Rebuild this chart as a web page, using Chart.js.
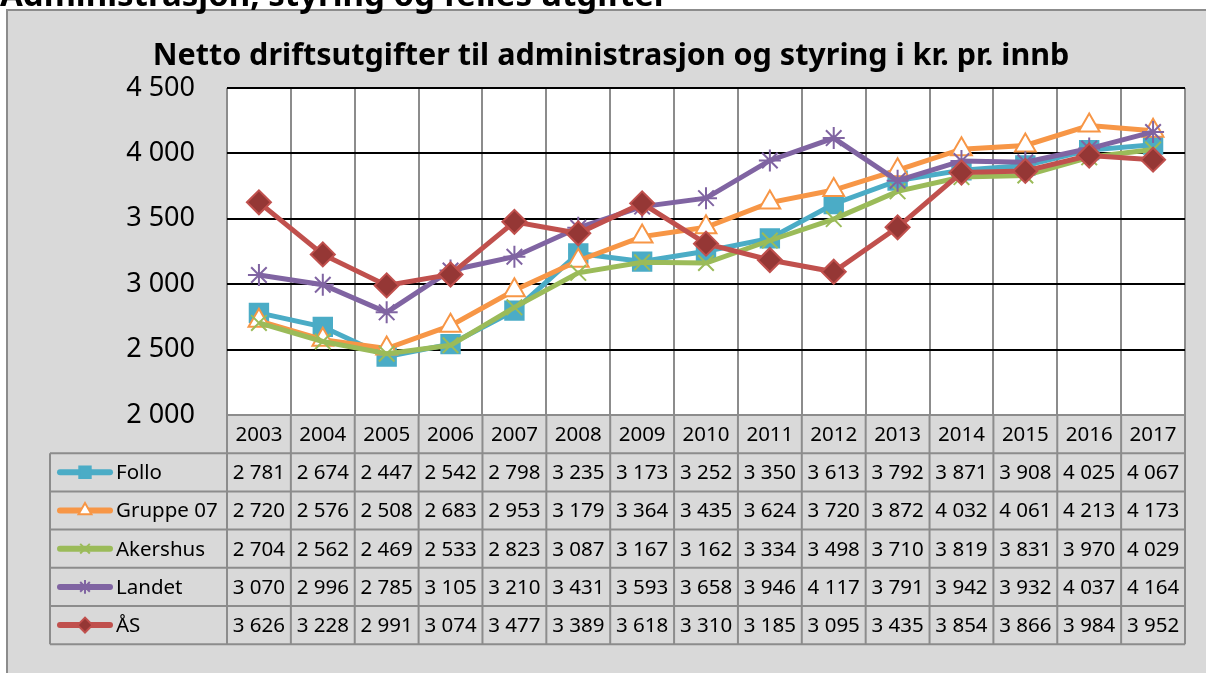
<!DOCTYPE html>
<html>
<head>
<meta charset="utf-8">
<script src="https://cdn.jsdelivr.net/npm/chart.js@4"></script>
<style>
  html, body { margin: 0; padding: 0; background: #fff; }
  #box {
    position: absolute; left: 6px; top: 9px; width: 1210px; height: 670px;
    background: #d9d9d9; border-left: 2px solid #8c8c8c; border-top: 2px solid #8c8c8c;
  }
  #c { position: absolute; left: 0; top: 0; }
</style>
</head>
<body>
<div id="box"></div>
<canvas id="c" width="1206" height="673"></canvas>
<script>
// ─── 데이터 ─────────────────────────────
const years = ['2003', '2004', '2005', '2006', '2007', '2008', '2009', '2010',
               '2011', '2012', '2013', '2014', '2015', '2016', '2017'];
const follo    = [2781, 2674, 2447, 2542, 2798, 3235, 3173, 3252, 3350, 3613, 3792, 3871, 3908, 4025, 4067];
const gruppe07 = [2720, 2576, 2508, 2683, 2953, 3179, 3364, 3435, 3624, 3720, 3872, 4032, 4061, 4213, 4173];
const akershus = [2704, 2562, 2469, 2533, 2823, 3087, 3167, 3162, 3334, 3498, 3710, 3819, 3831, 3970, 4029];
const landet   = [3070, 2996, 2785, 3105, 3210, 3431, 3593, 3658, 3946, 4117, 3791, 3942, 3932, 4037, 4164];
const aas      = [3626, 3228, 2991, 3074, 3477, 3389, 3618, 3310, 3185, 3095, 3435, 3854, 3866, 3984, 3952];
const yTicks = [2000, 2500, 3000, 3500, 4000, 4500];

const heading = 'Administrasjon, styring og felles utgifter';
const title = 'Netto driftsutgifter til administrasjon og styring i kr. pr. innb';

const FONT = '"Noto Sans", "Open Sans", sans-serif';
const GRAY = '#8c8c8c';

// 천 단위 공백
const fmt = (v) => String(v).replace(/\B(?=(\d{3})+(?!\d))/g, ' ');

function series(label, data, color, style, extra) {
  return Object.assign({
    label, data,
    borderColor: color,
    backgroundColor: color,
    borderWidth: 5,
    tension: 0,
    pointStyle: style,
    pointRadius: 10,
    pointBorderWidth: 2,
    pointBorderColor: color,
    pointBackgroundColor: color
  }, extra || {});
}

const datasets = [
  series('Follo', follo, '#4bacc6', 'rect', { pointRadius: 13, order: 4 }),
  series('Gruppe 07', gruppe07, '#f79646', 'triangle', { pointRadius: 12, pointBackgroundColor: '#ffffff', order: 3 }),
  series('Akershus', akershus, '#9bbb59', 'crossRot', { pointRadius: 11, order: 2 }),
  series('Landet', landet, '#8064a2', 'star', { pointRadius: 11, order: 1 }),
  series('ÅS', aas, '#c0504d', 'rectRot', { pointRadius: 12, pointBackgroundColor: '#953735', order: 0 })
];

// ─── 플러그인: 흰 배경, 제목, 데이터 테이블 ──────────────
const decor = {
  id: 'decor',
  beforeDraw(chart) {
    const { ctx, chartArea: a } = chart;
    ctx.save();
    ctx.fillStyle = '#ffffff';
    ctx.fillRect(a.left, a.top, a.right - a.left, a.bottom - a.top);
    ctx.fillStyle = '#000';
    ctx.textAlign = 'left';
    ctx.textBaseline = 'alphabetic';
    ctx.font = 'bold 33px ' + FONT;
    ctx.fillText(heading, 0, 6);
    ctx.textAlign = 'center';
    ctx.textBaseline = 'middle';
    ctx.font = 'bold 30.5px ' + FONT;
    ctx.fillText(title, 611, 56);
    ctx.restore();
  },
  afterDraw(chart) {
    const { ctx, chartArea: a } = chart;
    const x = chart.scales.x;
    const step = x.getPixelForValue(1) - x.getPixelForValue(0);
    const edges = years.map((_, i) => x.getPixelForValue(i) - step / 2);
    edges.push(a.right);
    const top = a.bottom, rowH = 38.2, legLeft = 50;
    const rows = datasets.length;
    const bottom = top + rowH * (rows + 1);

    ctx.save();
    ctx.strokeStyle = GRAY;
    ctx.lineWidth = 2;
    ctx.beginPath();
    edges.forEach(e => { ctx.moveTo(e, top); ctx.lineTo(e, bottom); });
    ctx.moveTo(legLeft, top + rowH); ctx.lineTo(legLeft, bottom);
    for (let r = 0; r <= rows + 1; r++) {
      const y = top + r * rowH;
      ctx.moveTo(r === 0 ? a.left : legLeft, y);
      ctx.lineTo(a.right, y);
    }
    ctx.stroke();

    ctx.fillStyle = '#000';
    ctx.font = '20.5px ' + FONT;
    ctx.textAlign = 'center';
    ctx.textBaseline = 'middle';
    years.forEach((yr, i) => ctx.fillText(yr, x.getPixelForValue(i), top + rowH / 2 + 1));
    datasets.forEach((ds, r) => {
      const cy = top + rowH * (r + 1.5) + 1;
      ds.data.forEach((v, i) => ctx.fillText(fmt(v), x.getPixelForValue(i), cy));
    });

    // 범례 (테이블 왼쪽)
    datasets.forEach((ds, r) => {
      const cy = top + rowH * (r + 1.5);
      ctx.strokeStyle = ds.borderColor;
      ctx.lineWidth = 6;
      ctx.lineCap = 'round';
      ctx.beginPath(); ctx.moveTo(60, cy); ctx.lineTo(110, cy); ctx.stroke();
      ctx.lineCap = 'butt';
      ctx.fillStyle = ds.pointBackgroundColor;
      ctx.strokeStyle = ds.pointBorderColor;
      ctx.lineWidth = 2;
      Chart.helpers.drawPoint(ctx, {
        pointStyle: ds.pointStyle, radius: ds.pointRadius * 0.62, rotation: 0,
        borderWidth: 2
      }, 85, cy);
      ctx.fillStyle = '#000';
      ctx.textAlign = 'left';
      ctx.fillText(ds.label, 116, cy + 1);
    });
    ctx.restore();
  }
};

new Chart(document.getElementById('c'), {
  type: 'line',
  data: { labels: years, datasets },
  plugins: [decor],
  options: {
    responsive: false,
    animation: false,
    layout: { padding: { left: 0, top: 88, right: 21, bottom: 0 } },
    plugins: { legend: { display: false }, title: { display: false }, tooltip: { enabled: false } },
    scales: {
      x: {
        type: 'category',
        offset: true,
        border: { display: false },
        grid: { color: GRAY, lineWidth: 2, drawTicks: false, offset: true },
        ticks: { display: false },
        afterFit: (s) => { s.height = 258; }
      },
      y: {
        min: 2000, max: 4500,
        border: { display: false },
        afterBuildTicks: (s) => { s.ticks = yTicks.map(v => ({ value: v })); },
        grid: {
          drawTicks: false, lineWidth: 2,
          color: (c) => (c.tick && c.tick.value === 2000) ? GRAY : '#000'
        },
        ticks: {
          padding: 32, color: '#000',
          font: { family: FONT, size: 27 },
          callback: (v) => fmt(v)
        },
        afterFit: (s) => { s.width = 227; }
      }
    }
  }
});
</script>
</body>
</html>
